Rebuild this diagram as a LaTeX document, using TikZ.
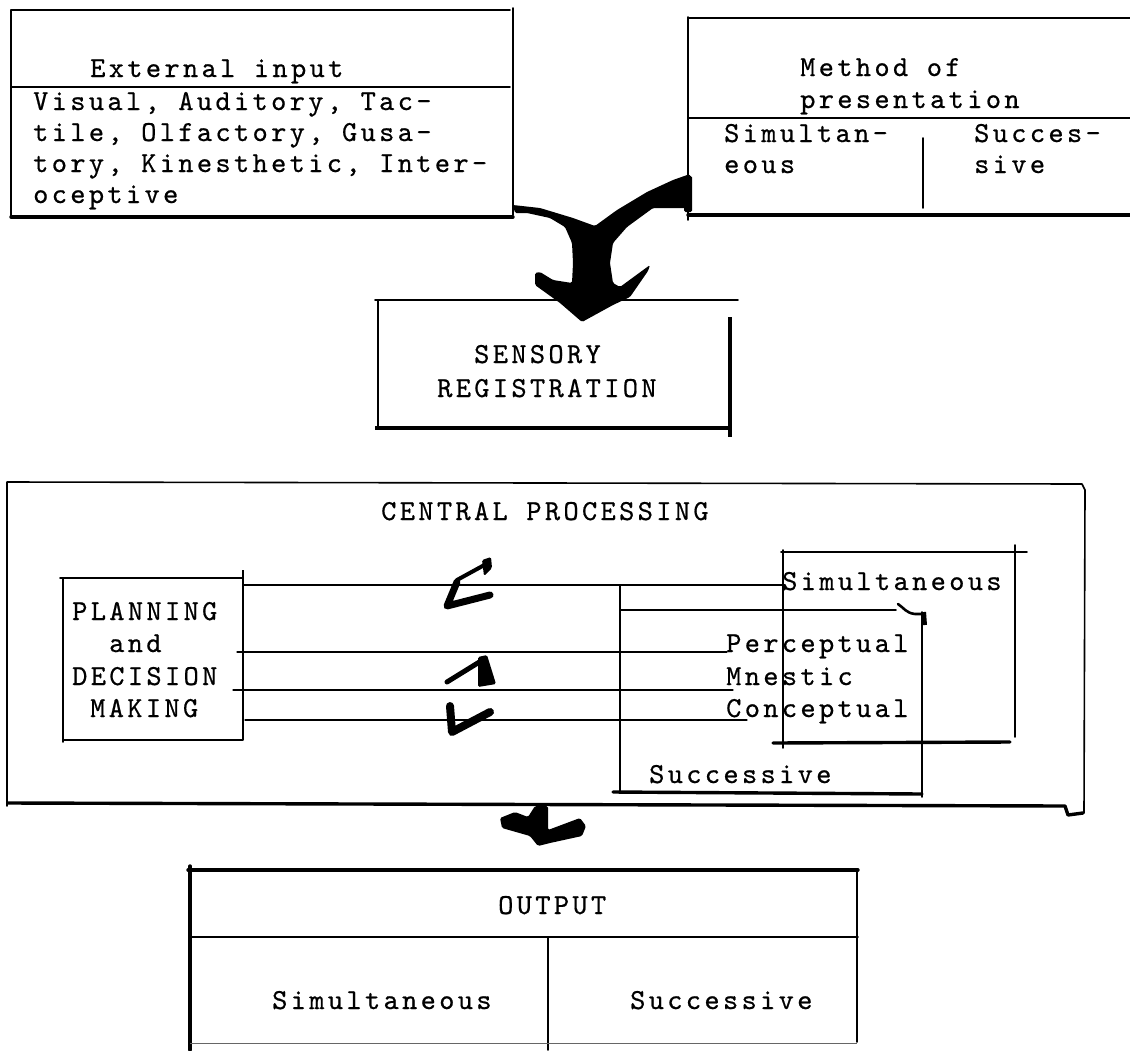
\documentclass[tikz,border=0pt]{standalone}
\usepackage{fontspec}
\newfontfamily\twfont{lmmono10-regular}[Extension=.otf, LetterSpace=11.5, FakeBold=0.6]
\begin{document}
\begin{tikzpicture}[x=1pt,y=-1pt,
  tw/.style={font=\twfont\fontsize{29}{31}\selectfont, inner sep=0pt, anchor=base west},
  ln/.style={line width=1.6pt, line cap=round, line join=round},
  thk/.style={line width=3.4pt, line cap=round, line join=round},
  ink/.style={fill=black, rounded corners=1.5pt},
  brush/.style={line width=7pt, line cap=round, line join=round}]
\useasboundingbox (0,0) rectangle (1130,1050);

% ---------- External input box ----------
\draw[ln] (11,217) -- (11,10) -- (510,10);
\draw[ln] (513,8) -- (513,215);
\draw[thk] (11,217) -- (513,217);
\draw[ln] (11,87) -- (510,87);
\node[tw] (ext) at (90,77) {External input};
\node[tw] (v1) at (33,110) {Visual, Auditory, Tac-};
\node[tw] (v2) at (33,141) {tile, Olfactory, Gusa-};
\node[tw] (v3) at (33,172) {tory, Kinesthetic, Inter-};
\node[tw] (v4) at (33,203) {oceptive};

% ---------- Method of presentation box ----------
\draw[ln] (688,220) -- (688,17);
\draw[ln] (688,18) -- (1130,18);
\draw[ln] (688,118) -- (1130,118);
\draw[thk] (688,215) -- (1130,215);
\draw[ln] (923,138) -- (923,208);
\node[tw] (m1) at (800,76) {Method of};
\node[tw] (m2) at (800,108) {presentation};
\node[tw] (ps1) at (724,142) {Simultan-};
\node[tw] (ps2) at (724,173) {eous};
\node[tw] (pc1) at (974,142) {Succes-};
\node[tw] (pc2) at (974,173) {sive};

% ---------- Sensory registration box ----------
\draw[ln] (378,427) -- (378,300);
\draw[ln] (375,300) -- (738,300);
\draw[line width=4pt] (730,317) -- (730,437);
\draw[line width=4pt] (375,428) -- (732,428);
\node[tw] (s1) at (474,363) {SENSORY};
\node[tw] (s2) at (437,397) {REGISTRATION};

% ---------- big converging arrow ----------
\fill[ink] (513,205) -- (540,208) -- (573,218) -- (595,226) -- (617,210) -- (647,192)
  -- (673,180) -- (690,174) -- (692,190) -- (688,208) -- (653,208) -- (627,227)
  -- (613,243) -- (610,263) -- (613,283) -- (620,287) -- (650,265) -- (648,271)
  -- (630,297) -- (613,305) -- (582,322) -- (560,303) -- (535,285) -- (535,273)
  -- (540,272) -- (553,280) -- (572,283) -- (573,263) -- (572,243) -- (565,227)
  -- (550,218) -- (527,213) -- (515,213) -- cycle;
\fill[ink] (684,176) -- (692,176) -- (692,212) -- (684,212) -- cycle;

% ---------- Central processing box ----------
\draw[ln] (7,806) -- (7,482) -- (1082,484) -- (1085,490) -- (1084,813);
\draw[thk] (8,803) -- (1065,806) -- (1068,815) -- (1083,813);
\node[tw] (cp) at (381,520) {CENTRAL PROCESSING};

% Planning box
\draw[ln] (60,578) -- (243,578);
\draw[ln] (63,578) -- (63,742);
\draw[ln] (63,740) -- (243,740);
\draw[line width=2.4pt] (243,570) -- (243,740);
\node[tw] (pl1) at (72,620) {PLANNING};
\node[tw] (pl2) at (109,652) {and};
\node[tw] (pl3) at (72,685) {DECISION};
\node[tw] (pl4) at (90,717) {MAKING};

% connecting lines
\coordinate (a1) at (243,585); \coordinate (b1) at (785,585);
\coordinate (a2) at (237,652); \coordinate (b2) at (727,652);
\coordinate (a3) at (233,690); \coordinate (b3) at (733,690);
\coordinate (a4) at (245,720); \coordinate (b4) at (747,720);
\draw[ln, line width=1.3pt] (a1) -- (b1);
\draw[ln, line width=1.3pt] (a2) -- (b2);
\draw[ln, line width=1.3pt] (a3) -- (b3);
\draw[ln, line width=1.3pt] (a4) -- (b4);

% Successive box
\draw[ln] (620,585) -- (620,792);
\draw[ln] (620,610) -- (896,610);
\draw[line width=2.6pt, line cap=round] (898,604) .. controls (904,608) and (906,613) .. (915,614) -- (925,614);
\draw[line width=4pt] (924,612) -- (925,625);
\draw[ln] (922,612) -- (922,797);
\draw[thk] (613,792) -- (922,794);
\node[tw] (succ) at (649,783) {Successive};

% Simultaneous box
\draw[ln] (783,550) -- (783,748);
\draw[ln] (781,552) -- (1027,552);
\draw[ln] (1015,545) -- (1015,737);
\draw[thk] (773,743) -- (1010,742);
\node[tw] (simu) at (782,590) {Simultaneous};
\node[tw] (per) at (726,652) {Perceptual};
\node[tw] (mne) at (726,685) {Mnestic};
\node[tw] (con) at (726,717) {Conceptual};

% small hand-drawn arrows
\draw[brush, line width=4pt] (488,563) -- (457,580);
\fill[ink] (482,560) -- (491,557) -- (492,568) -- (484,576) -- cycle;
\draw[brush, line width=7pt] (457,582) -- (447,606) -- (490,595);
\draw[brush, line width=5pt] (447,682) -- (481,661);
\fill[ink] (478,657) -- (487,655) -- (496,684) -- (478,687) -- cycle;
\draw[brush, line width=8pt] (450,706) -- (452,732) -- (490,712);

% ---------- arrow to output ----------
\fill[ink] (500,818) -- (515,812) -- (528,817) -- (535,806) -- (548,806) -- (548,830)
  -- (580,818) -- (586,826) -- (582,836) -- (550,843) -- (538,846) -- (530,836)
  -- (502,828) -- cycle;

% ---------- Output box ----------
\draw[thk] (188,870) -- (858,870);
\draw[thk] (190,866) -- (190,1050);
\draw[ln] (190,937) -- (858,937);
\draw[ln] (548,937) -- (548,1050);
\draw[ln] (857,870) -- (857,1042);
\draw[line width=1pt, black!60] (190,1043) -- (857,1043);
\node[tw] (out) at (498,914) {OUTPUT};
\node[tw] (osim) at (272,1009) {Simultaneous};
\node[tw] (osuc) at (630,1009) {Successive};
\end{tikzpicture}
\end{document}
